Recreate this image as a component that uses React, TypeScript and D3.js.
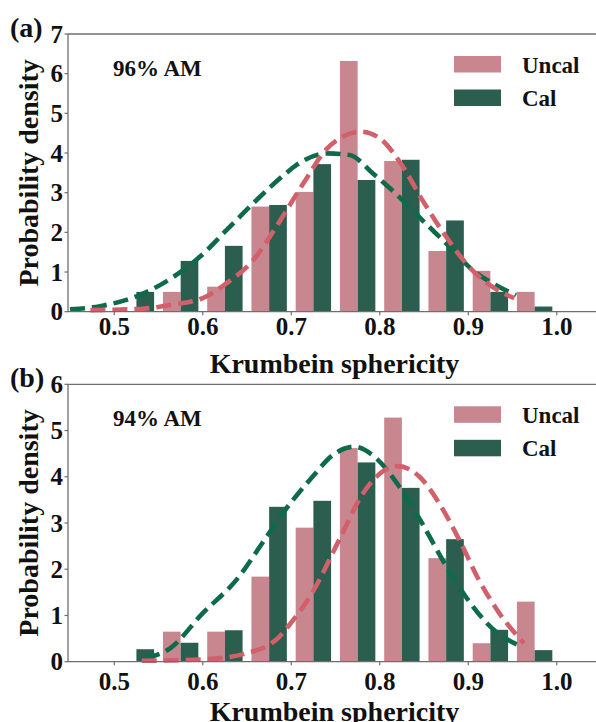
import * as React from "react";
import * as d3 from "d3";

// bin centres of the histogram (width 0.05), same for both panels
const binCenters = [0.525, 0.575, 0.625, 0.675, 0.725, 0.775, 0.825, 0.875, 0.925, 0.975];
const xTicks = [0.5, 0.6, 0.7, 0.8, 0.9, 1.0];

// (a) 96% AM
const uncalA = [0, 0.5, 0.63, 2.65, 3.02, 6.32, 3.8, 1.53, 1.03, 0.5];
const calA = [0.5, 1.28, 1.66, 2.69, 3.72, 3.32, 3.83, 2.3, 0.5, 0.13];
const uncalCurveXA = [0.473, 0.529, 0.563, 0.6, 0.627, 0.657, 0.683, 0.707, 0.717, 0.739, 0.758, 0.779, 0.8, 0.826, 0.848, 0.875, 0.901, 0.927, 0.952];
const uncalCurveYA = [0.04, 0.07, 0.17, 0.34, 0.72, 1.3, 2.14, 3.0, 3.35, 4.08, 4.41, 4.54, 4.37, 3.66, 2.82, 1.89, 1.13, 0.63, 0.34];
const calCurveXA = [0.45, 0.484, 0.533, 0.567, 0.597, 0.627, 0.661, 0.694, 0.706, 0.741, 0.766, 0.792, 0.818, 0.848, 0.875, 0.905, 0.927, 0.954];
const calCurveYA = [0.06, 0.14, 0.46, 0.88, 1.39, 2.06, 2.82, 3.49, 3.7, 3.99, 3.95, 3.49, 2.98, 2.31, 1.72, 1.05, 0.72, 0.42];
const yTicksA = [0, 1, 2, 3, 4, 5, 6, 7];

// (b) 94% AM
const uncalB = [0, 0.65, 0.65, 1.84, 2.9, 4.62, 5.28, 2.24, 0.4, 1.3];
const calB = [0.27, 0.41, 0.68, 3.35, 3.48, 4.31, 3.76, 2.65, 0.69, 0.25];
const uncalCurveXB = [0.531, 0.6, 0.649, 0.687, 0.698, 0.724, 0.754, 0.781, 0.803, 0.82, 0.845, 0.867, 0.89, 0.912, 0.935, 0.963];
const uncalCurveYB = [0.02, 0.05, 0.18, 0.55, 0.8, 1.5, 2.63, 3.64, 4.11, 4.23, 4.0, 3.43, 2.63, 1.77, 1.05, 0.4];
const calCurveXB = [0.535, 0.563, 0.6, 0.638, 0.672, 0.687, 0.724, 0.747, 0.771, 0.796, 0.822, 0.848, 0.871, 0.897, 0.927, 0.961];
const calCurveYB = [0.07, 0.29, 1.05, 1.77, 2.7, 3.12, 4.0, 4.47, 4.65, 4.4, 3.79, 2.99, 2.2, 1.41, 0.72, 0.32];
const yTicksB = [0, 1, 2, 3, 4, 5, 6];

const UNCAL_BAR = "#c8878f";
const CAL_BAR = "#2b5e4f";
const UNCAL_LINE = "#d1606a";
const CAL_LINE = "#0e6b4a";
const AXIS = "#6e6e6e";
const FONT = "'Liberation Serif', 'Times New Roman', serif";

interface PanelProps {
  tag: string;
  note: string;
  top: number;
  bottom: number;
  yMax: number;
  yTicks: number[];
  uncal: number[];
  cal: number[];
  ucx: number[];
  ucy: number[];
  ccx: number[];
  ccy: number[];
  tickLabelDy: number;
  xLabelY: number;
}

function Panel(p: PanelProps) {
  const left = 68;
  const right = 601;
  const x = d3.scaleLinear().domain([0.4477, 1.05]).range([left, right]);
  const y = d3.scaleLinear().domain([0, p.yMax]).range([p.bottom, p.top]);
  const line = d3
    .line<[number, number]>()
    .x((d) => x(d[0]))
    .y((d) => y(d[1]))
    .curve(d3.curveMonotoneX);
  const bw = 0.02;
  const plotMidY = (p.top + p.bottom) / 2;

  return (
    <g fontFamily={FONT} fontWeight="bold" fill="#111">
      {binCenters.map((c, i) =>
        p.uncal[i] > 0 ? (
          <rect key={"u" + i} x={x(c - bw)} y={y(p.uncal[i])} width={x(c) - x(c - bw)} height={p.bottom - y(p.uncal[i])} fill={UNCAL_BAR} />
        ) : null
      )}
      {binCenters.map((c, i) =>
        p.cal[i] > 0 ? (
          <rect key={"c" + i} x={x(c)} y={y(p.cal[i])} width={x(c + bw) - x(c)} height={p.bottom - y(p.cal[i])} fill={CAL_BAR} />
        ) : null
      )}
      <path d={line(p.ccx.map((v, i) => [v, p.ccy[i]]))!} fill="none" stroke={CAL_LINE} strokeWidth={4.6} strokeDasharray="15,7" />
      <path d={line(p.ucx.map((v, i) => [v, p.ucy[i]]))!} fill="none" stroke={UNCAL_LINE} strokeWidth={4.6} strokeDasharray="15,7" />

      {/* spines */}
      <line x1={left} x2={right} y1={p.top} y2={p.top} stroke={AXIS} strokeWidth={1.3} />
      <line x1={left} x2={right} y1={p.bottom} y2={p.bottom} stroke={AXIS} strokeWidth={1.3} />
      <line x1={left} x2={left} y1={p.top} y2={p.bottom} stroke={AXIS} strokeWidth={1.3} />

      {xTicks.map((t) => (
        <g key={t}>
          <line x1={x(t)} x2={x(t)} y1={p.bottom} y2={p.bottom + 3.5} stroke={AXIS} strokeWidth={1.2} />
          <text x={x(t)} y={p.bottom + p.tickLabelDy} textAnchor="middle" fontSize={25}>
            {t.toFixed(1)}
          </text>
        </g>
      ))}
      {p.yTicks.map((t) => (
        <g key={t}>
          <line x1={left - 3.5} x2={left} y1={y(t)} y2={y(t)} stroke={AXIS} strokeWidth={1.2} />
          <text x={63} y={y(t)} dy="0.34em" textAnchor="end" fontSize={25}>
            {t}
          </text>
        </g>
      ))}

      <text x={0} y={0} fontSize={28} textAnchor="middle" transform={`translate(38,${plotMidY}) rotate(-90)`}>
        Probability density
      </text>
      <text x={(left + right) / 2} y={p.xLabelY} fontSize={28} textAnchor="middle">
        Krumbein sphericity
      </text>
      <text x={10} y={p.top + 2.5} fontSize={28}>
        {p.tag}
      </text>
      <text x={113} y={p.top + 41.5} fontSize={23}>
        {p.note}
      </text>

      {/* legend */}
      <rect x={454} y={p.top + 22} width={47} height={16.5} fill={UNCAL_BAR} />
      <rect x={454} y={p.top + 55.5} width={47} height={16.5} fill={CAL_BAR} />
      <text x={522} y={p.top + 38.5} fontSize={23}>
        Uncal
      </text>
      <text x={522} y={p.top + 72} fontSize={23}>
        Cal
      </text>
    </g>
  );
}

export default function App() {
  return (
    <svg width={596} height={722} style={{ position: "absolute", left: 0, top: 0, background: "#fff" }}>
      <Panel
        tag="(a)"
        note="96% AM"
        top={34}
        bottom={311.7}
        yMax={7}
        yTicks={yTicksA}
        uncal={uncalA}
        cal={calA}
        ucx={uncalCurveXA}
        ucy={uncalCurveYA}
        ccx={calCurveXA}
        ccy={calCurveYA}
        tickLabelDy={23.3}
        xLabelY={372.5}
      />
      <Panel
        tag="(b)"
        note="94% AM"
        top={384.3}
        bottom={661.7}
        yMax={6}
        yTicks={yTicksB}
        uncal={uncalB}
        cal={calB}
        ucx={uncalCurveXB}
        ucy={uncalCurveYB}
        ccx={calCurveXB}
        ccy={calCurveYB}
        tickLabelDy={28.3}
        xLabelY={720.5}
      />
    </svg>
  );
}
